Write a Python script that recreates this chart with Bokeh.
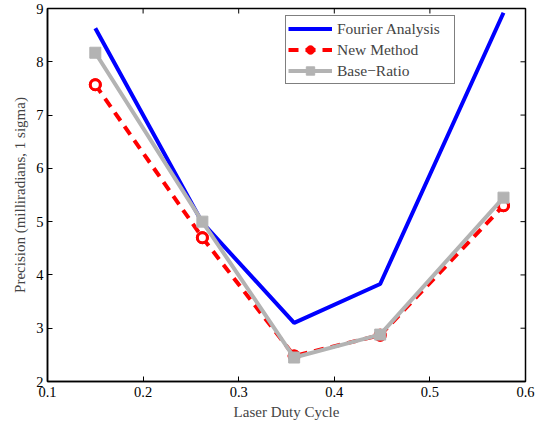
import math
from bokeh.plotting import figure
from bokeh.models import Range1d, Legend, LegendItem, FixedTicker
from bokeh.embed import file_html
from bokeh.resources import INLINE

duty = [0.150, 0.262, 0.358, 0.448, 0.577]
fourier = [8.63, 4.98, 3.10, 3.83, 8.92]
new_method = [7.57, 4.70, 2.48, 2.87, 5.30]
base_ratio = [8.17, 5.00, 2.45, 2.88, 5.45]

x_ticks = [0.1, 0.2, 0.3, 0.4, 0.5, 0.6]
y_ticks = [2, 3, 4, 5, 6, 7, 8, 9]

FONT = "Liberation Serif"

p = figure(width=543, height=425, output_backend="svg", toolbar_location=None,
           x_range=Range1d(0.1, 0.6), y_range=Range1d(2, 9),
           min_border_left=47, min_border_right=18, min_border_top=8, min_border_bottom=44)
p.xgrid.visible = False
p.ygrid.visible = False
p.outline_line_color = "black"
p.outline_line_width = 1.5

for ax in p.xaxis + p.yaxis:
    ax.major_tick_in = 5
    ax.major_tick_out = 0
    ax.minor_tick_in = 0
    ax.minor_tick_out = 0
    ax.axis_line_width = 1.5
    ax.major_tick_line_width = 1
    ax.major_label_text_font = FONT
    ax.major_label_text_font_size = "14.5px"
    ax.axis_label_text_font = FONT
    ax.axis_label_text_font_size = "15px"
    ax.axis_label_text_font_style = "normal"
    ax.major_label_text_color = "black"

p.xaxis.ticker = FixedTicker(ticks=x_ticks)
p.yaxis.ticker = FixedTicker(ticks=y_ticks)
p.xaxis.axis_label = "Laser Duty Cycle"
p.yaxis.axis_label = "Precision (milliradians, 1 sigma)"
p.xaxis.major_label_standoff = 5
p.xaxis.axis_label_standoff = 4
p.yaxis.major_label_standoff = 4
p.yaxis.axis_label_standoff = 5

# ticks on top and right edges (box on)
p.ray(x=x_ticks, y=[9] * len(x_ticks), length=5, length_units="screen",
      angle=-math.pi / 2, line_color="black", line_width=1)
p.ray(x=[0.6] * len(y_ticks), y=y_ticks, length=5, length_units="screen",
      angle=math.pi, line_color="black", line_width=1)

blue = "#0000FF"
red = "#FF0000"
grey = "#B3B3B3"

l1 = p.line(duty, fourier, line_color=blue, line_width=4)
l2 = p.line(duty, new_method, line_color=red, line_width=4, line_dash="10 7")
# filled marker used for the legend swatch (covered by the open markers on the plot)
m2l = p.scatter(duty, new_method, marker="circle", size=12, line_color=red, fill_color=red,
                line_width=1)
m2 = p.scatter(duty, new_method, marker="circle", size=10, line_color=red, line_width=3,
               fill_color="white")
l3 = p.line(duty, base_ratio, line_color=grey, line_width=4)
m3 = p.scatter(duty, base_ratio, marker="square", size=11, line_color=grey, fill_color=grey)

legend = Legend(items=[
    LegendItem(label="Fourier Analysis", renderers=[l1]),
    LegendItem(label="New Method", renderers=[l2, m2l]),
    LegendItem(label="Base\u2212Ratio", renderers=[l3, m3]),
], location=(238, 297))
legend.label_text_font = FONT
legend.label_text_font_size = "15.5px"
legend.glyph_width = 44
legend.glyph_height = 21
legend.label_height = 21
legend.label_width = 115
legend.spacing = 0
legend.padding = 2
legend.margin = 0
legend.label_standoff = 5
legend.border_line_color = "black"
legend.border_line_width = 1
legend.background_fill_alpha = 1
p.add_layout(legend, "center")

open("out.html", "w").write(file_html(p, INLINE))
